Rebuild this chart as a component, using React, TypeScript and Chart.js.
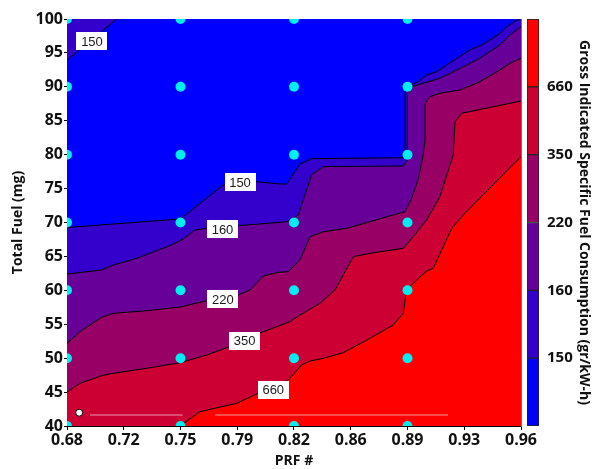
import React, { useEffect, useRef } from "react";
import { Chart, registerables } from "chart.js";

Chart.register(...registerables);

// ---------- data ----------
const xTickLabels = ["0.68", "0.72", "0.75", "0.79", "0.82", "0.86", "0.89", "0.93", "0.96"];
const colorbarTickLabels = ["", "150", "160", "220", "350", "660", ""];
const bandColors = ["#0000FF", "#3300CC", "#660099", "#990066", "#CC0033", "#FF0000"];

const contour150a: [number, number][] = [[0.68, 93.96], [0.7107, 100]];
const contour150: [number, number][] = [
  [0.68, 69.26], [0.7497, 70.52], [0.7517, 70.86], [0.7764, 75.53], [0.797, 76.01], [0.8114, 75.68],
  [0.8155, 75.68], [0.8237, 78.62], [0.8309, 79.41], [0.8874, 79.55], [0.8885, 80.2], [0.8885, 89.28],
  [0.8915, 90.27], [0.8967, 90.76], [0.9018, 91.74], [0.908, 92.23], [0.9173, 93.71], [0.9285, 95.43],
  [0.9358, 96.17], [0.9409, 96.91], [0.947, 97.89], [0.9512, 98.86], [0.9553, 99.51], [0.9594, 100],
];
const contour160: [number, number][] = [
  [0.68, 62.41], [0.7014, 63.0], [0.7086, 63.73], [0.723, 64.72], [0.7435, 66.58], [0.7517, 67.57],
  [0.7589, 68.89], [0.7662, 69.14], [0.7856, 69.53], [0.8114, 70.03], [0.8155, 70.12], [0.8227, 71.11],
  [0.8257, 73.32], [0.8309, 77.0], [0.8381, 78.23], [0.8874, 78.33], [0.8899, 79.21], [0.8899, 89.05],
  [0.8926, 90.02], [0.9028, 90.76], [0.91, 91.26], [0.9224, 92.73], [0.9347, 94.21], [0.947, 96.17],
  [0.9532, 97.64], [0.96, 98.87],
];
const contour220: [number, number][] = [
  [0.68, 52.16], [0.688, 53.9], [0.7014, 56.02], [0.7086, 56.61], [0.7292, 57.0], [0.7497, 57.54],
  [0.7662, 58.47], [0.7856, 59.31], [0.7929, 60.05], [0.8011, 62.11], [0.8093, 62.63], [0.8165, 62.75],
  [0.8237, 64.47], [0.8299, 67.91], [0.8381, 68.64], [0.8525, 69.14], [0.8669, 70.12], [0.8812, 71.11],
  [0.8885, 71.59], [0.8922, 73.32], [0.8965, 76.27], [0.8997, 79.95], [0.9008, 82.16], [0.9008, 87.57],
  [0.9039, 88.55], [0.91, 89.05], [0.9224, 89.53], [0.9347, 90.76], [0.947, 92.48], [0.9532, 93.47],
  [0.96, 94.21],
];
const contour350: [number, number][] = [
  [0.68, 45.01], [0.688, 46.29], [0.7014, 47.42], [0.7086, 47.77], [0.7292, 48.51], [0.7497, 49.33],
  [0.7662, 50.47], [0.7805, 51.72], [0.7986, 53.67], [0.8093, 54.64], [0.8175, 55.38], [0.8237, 56.36],
  [0.836, 58.09], [0.8453, 60.05], [0.8566, 64.96], [0.8669, 65.46], [0.8874, 66.2], [0.8936, 67.91],
  [0.9018, 70.37], [0.91, 73.8], [0.9182, 79.95], [0.9193, 84.86], [0.9234, 86.1], [0.96, 87.91],
];
const contour660: [number, number][] = [
  [0.7497, 40], [0.762, 42.11], [0.7847, 43.35], [0.797, 44.72], [0.8165, 46.78], [0.8247, 48.99],
  [0.8299, 49.58], [0.8381, 49.98], [0.8504, 50.81], [0.8669, 52.93], [0.8812, 54.89], [0.8874, 56.61],
  [0.8885, 58.57], [0.8895, 60.05], [0.8957, 61.52], [0.9018, 62.85], [0.9059, 63.25], [0.9173, 69.14],
  [0.9244, 71.11], [0.96, 79.7],
];

const sampleX = [0.68, 0.75, 0.82, 0.89];
const sampleY = [40, 50, 60, 70, 80, 90, 100];
const markerPoint: [number, number] = [0.6875, 41.96];
const whiteLine1: [number, number][] = [[0.6942, 41.62], [0.7513, 41.62]];
const whiteLine2: [number, number][] = [[0.7713, 41.62], [0.915, 41.62]];

const levelLabels = ["150", "150", "160", "220", "350", "660"];
const levelLabelX = [0.6954, 0.7867, 0.7759, 0.7761, 0.7896, 0.8072];
const levelLabelY = [96.76, 75.97, 68.97, 58.69, 52.6, 45.35];

// ---------- helpers ----------
const X_MIN = 0.68, X_MAX = 0.96, Y_MIN = 40, Y_MAX = 100;
const toPts = (arr: [number, number][]) => arr.map(([x, y]) => ({ x, y }));

const polygon = (pts: [number, number][], color: string, order: number) => ({
  type: "scatter" as const,
  data: toPts(pts),
  showLine: true,
  fill: "shape",
  backgroundColor: color,
  borderColor: "rgba(0,0,0,0)",
  borderWidth: 0,
  pointRadius: 0,
  tension: 0,
  order,
});
const line = (pts: [number, number][], color: string, width: number, order: number) => ({
  type: "scatter" as const,
  data: toPts(pts),
  showLine: true,
  fill: false,
  borderColor: color,
  borderWidth: width,
  pointRadius: 0,
  tension: 0,
  order,
});

const labelPlugin = {
  id: "contourLabels",
  afterDraw(chart: any) {
    const { ctx } = chart;
    const xs = chart.scales.x;
    const ys = chart.scales.y;
    ctx.save();
    ctx.font = '13px "Liberation Sans", Arial, sans-serif';
    ctx.textAlign = "center";
    ctx.textBaseline = "middle";
    levelLabels.forEach((t, i) => {
      const px = xs.getPixelForValue(levelLabelX[i]);
      const py = ys.getPixelForValue(levelLabelY[i]);
      const w = 31, h = 18;
      ctx.fillStyle = "#ffffff";
      ctx.fillRect(Math.round(px - w / 2), Math.round(py - h / 2), w, h);
      ctx.fillStyle = "#1a1a1a";
      ctx.fillText(t, px, py + 1);
    });
    ctx.restore();
  },
};

const FONT = '"Open Sans", "DejaVu Sans", sans-serif';

export default function App() {
  const mainRef = useRef<HTMLCanvasElement>(null);
  const barRef = useRef<HTMLCanvasElement>(null);

  useEffect(() => {
    Chart.defaults.font.family = FONT;
    const corners: [number, number][] = [[X_MIN, Y_MIN], [X_MAX, Y_MIN], [X_MAX, Y_MAX], [X_MIN, Y_MAX]];
    const samplePts = sampleX.flatMap((x) => sampleY.map((y) => ({ x, y })));

    const main = new Chart(mainRef.current!, {
      type: "scatter",
      data: {
        datasets: [
          polygon(corners, bandColors[0], 30),
          polygon([...contour150, [X_MAX, Y_MAX], [X_MAX, Y_MIN], [X_MIN, Y_MIN]], bandColors[1], 29),
          polygon([...contour150a, [X_MIN, Y_MAX]], bandColors[1], 29),
          polygon([...contour160, [X_MAX, Y_MIN], [X_MIN, Y_MIN]], bandColors[2], 28),
          polygon([...contour220, [X_MAX, Y_MIN], [X_MIN, Y_MIN]], bandColors[3], 27),
          polygon([...contour350, [X_MAX, Y_MIN], [X_MIN, Y_MIN]], bandColors[4], 26),
          polygon([...contour660, [X_MAX, Y_MIN]], bandColors[5], 25),
          line(contour150a, "#000", 1, 10),
          line(contour150, "#000", 1, 10),
          line(contour160, "#000", 1, 10),
          line(contour220, "#000", 1, 10),
          line(contour350, "#000", 1, 10),
          line(contour660, "#000", 1, 10),
          line(whiteLine1, "rgba(255,255,255,0.6)", 1, 9),
          line(whiteLine2, "rgba(255,255,255,0.6)", 1, 9),
          {
            type: "scatter",
            data: samplePts,
            pointRadius: 5,
            pointBackgroundColor: "#00EEF2",
            pointBorderWidth: 0,
            borderColor: "rgba(0,0,0,0)",
            clip: 0,
            order: 5,
          } as any,
          {
            type: "scatter",
            data: [{ x: markerPoint[0], y: markerPoint[1] }],
            pointRadius: 3.5,
            pointBackgroundColor: "#fff",
            pointBorderColor: "#000",
            pointBorderWidth: 1,
            order: 4,
          } as any,
        ] as any,
      },
      options: {
        animation: false,
        responsive: false,
        layout: { padding: { top: 19, right: 71, left: 0, bottom: 0 } },
        plugins: { legend: { display: false }, tooltip: { enabled: false } },
        scales: {
          x: {
            type: "linear",
            position: "bottom",
            min: X_MIN,
            max: X_MAX,
            ticks: {
              stepSize: 0.035,
              autoSkip: false,
              maxRotation: 0,
              color: "#111",
              font: { size: 16, weight: "bold" },
              padding: 1,
              callback: (_v: any, i: number) => xTickLabels[i] ?? "",
            },
            grid: { drawOnChartArea: false, tickLength: 4, color: "#000" },
            border: { color: "#000", width: 1 },
            title: { display: true, text: "PRF #", color: "#111", font: { size: 14, weight: "bold" }, padding: { top: 0, bottom: 0 } },
            afterFit: (s: any) => { s.height = 43; },
          },
          xg: {
            type: "linear",
            position: "top",
            min: X_MIN,
            max: X_MAX,
            z: 1,
            ticks: { display: false, stepSize: 0.007 },
            grid: { color: "rgba(255,255,255,0.2)", drawTicks: false, lineWidth: 1 },
            border: { display: true, color: "#777", width: 1 },
            afterFit: (s: any) => { s.height = 0; },
          },
          y: {
            type: "linear",
            position: "left",
            min: Y_MIN,
            max: Y_MAX,
            ticks: { stepSize: 5, color: "#111", font: { size: 16, weight: "bold" }, padding: 1 },
            grid: { drawOnChartArea: false, tickLength: 3, color: "#000" },
            border: { color: "#000", width: 1 },
            title: { display: true, text: "Total Fuel (mg)", color: "#111", font: { size: 14, weight: "bold" }, padding: { top: 10, bottom: 0 } },
            afterFit: (s: any) => { s.width = 67; },
          },
          yr: {
            type: "linear",
            position: "right",
            min: Y_MIN,
            max: Y_MAX,
            z: 1,
            ticks: { display: false },
            grid: { display: false, drawTicks: false },
            border: { display: true, color: "#777", width: 1 },
            afterFit: (s: any) => { s.width = 0; },
          },
        },
      } as any,
      plugins: [labelPlugin],
    });

    const bar = new Chart(barRef.current!, {
      type: "bar",
      data: {
        labels: [""],
        datasets: bandColors.map((c, i) => ({
          data: [[i, i + 1]],
          backgroundColor: c,
          borderColor: "#222",
          borderWidth: 1,
          borderSkipped: false,
          barPercentage: 1,
          categoryPercentage: 1,
          grouped: false,
        })) as any,
      },
      options: {
        animation: false,
        responsive: false,
        layout: { padding: { top: 19, bottom: 43, left: 5, right: 0 } },
        plugins: { legend: { display: false }, tooltip: { enabled: false } },
        scales: {
          x: { display: false },
          y: {
            position: "right",
            min: 0,
            max: 6,
            ticks: {
              stepSize: 1,
              color: "#111",
              font: { size: 15, weight: "bold" },
              padding: 8,
              callback: (v: any) => colorbarTickLabels[Math.round(v)] ?? "",
            },
            grid: { display: false, drawTicks: false },
            border: { display: false },
            title: {
              display: true,
              text: "Gross Indicated Specific Fuel Consumption (gr/kW-h)",
              color: "#111",
              font: { size: 14, weight: "bold" },
              padding: { top: 0, bottom: 0 },
            },
            afterFit: (s: any) => { s.width = 53; },
          },
        },
      } as any,
    });

    return () => {
      main.destroy();
      bar.destroy();
    };
  }, []);

  return (
    <div style={{ position: "fixed", left: 0, top: 0, width: 592, height: 469, background: "#fff" }}>
      <canvas ref={mainRef} width={592} height={469} style={{ position: "absolute", left: 0, top: 0 }} />
      <canvas ref={barRef} width={70} height={469} style={{ position: "absolute", left: 522, top: 0 }} />
    </div>
  );
}
